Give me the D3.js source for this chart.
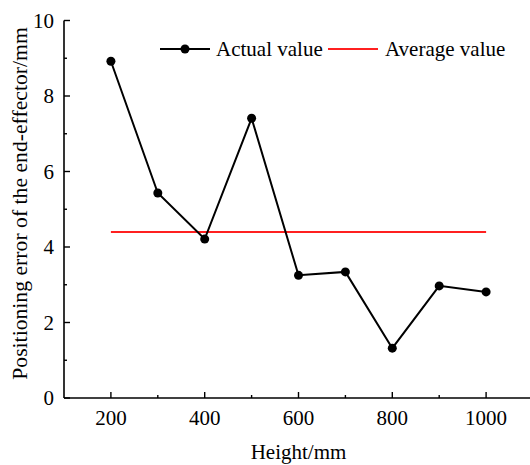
<!DOCTYPE html>
<html><head><meta charset="utf-8">
<script src="https://cdn.jsdelivr.net/npm/d3@7"></script>
<style>body{margin:0;background:#fff}svg{display:block}</style>
</head><body><svg id="c" width="530" height="465"></svg>
<script>
const heights = [200,300,400,500,600,700,800,900,1000];
const actualValues = [8.92,5.43,4.21,7.41,3.25,3.34,1.32,2.97,2.81];
const averageValue = 4.40;
const xTicks = [200,400,600,800,1000];
const yTicks = [0,2,4,6,8,10];
const xTitle = "Height/mm";
const yTitle = "Positioning error of the end-effector/mm";
const legendLabels = ["Actual value","Average value"];

const FF = "Liberation Serif";
const svg = d3.select("#c");
const x = d3.scaleLinear().domain([100,1100]).range([64,533]);
const y = d3.scaleLinear().domain([0,10]).range([398,20.5]);
const fs = 21;

// axes
const g = svg.append("g");
g.append("line").attr("x1",x(100)).attr("x2",x(1100)).attr("y1",y(0)).attr("y2",y(0)).attr("stroke","#000").attr("stroke-width",1.6);
g.append("line").attr("x1",x(100)).attr("x2",x(100)).attr("y1",y(0)).attr("y2",y(10)).attr("stroke","#000").attr("stroke-width",1.6);

// x ticks
const xMinor = d3.range(300,1100,200);
g.selectAll(".xt").data(xTicks).enter().append("line").attr("x1",d=>x(d)).attr("x2",d=>x(d)).attr("y1",y(0)).attr("y2",y(0)-6).attr("stroke","#000").attr("stroke-width",1.4);
g.selectAll(".xm").data(xMinor).enter().append("line").attr("x1",d=>x(d)).attr("x2",d=>x(d)).attr("y1",y(0)).attr("y2",y(0)-3).attr("stroke","#000").attr("stroke-width",1.4);
g.selectAll(".xl").data(xTicks).enter().append("text").attr("font-family",FF).attr("x",d=>x(d)).attr("y",y(0)+27).attr("text-anchor","middle").attr("font-size",fs).text(d=>d);

// y ticks
const yMinor = d3.range(1,10,2);
g.selectAll(".yt").data(yTicks).enter().append("line").attr("x1",x(100)).attr("x2",x(100)+6).attr("y1",d=>y(d)).attr("y2",d=>y(d)).attr("stroke","#000").attr("stroke-width",1.4);
g.selectAll(".ym").data(yMinor).enter().append("line").attr("x1",x(100)).attr("x2",x(100)+3).attr("y1",d=>y(d)).attr("y2",d=>y(d)).attr("stroke","#000").attr("stroke-width",1.4);
g.selectAll(".yl").data(yTicks).enter().append("text").attr("font-family",FF).attr("x",x(100)-10).attr("y",d=>y(d)).attr("dy","0.35em").attr("text-anchor","end").attr("font-size",fs).text(d=>d);

// titles
svg.append("text").attr("font-family",FF).attr("x",298.5).attr("y",459).attr("text-anchor","middle").attr("font-size",fs).text(xTitle);
svg.append("text").attr("font-family",FF).attr("transform","translate(27,203.5) rotate(-90)").attr("text-anchor","middle").attr("font-size",21.7).text(yTitle);

// average line
svg.append("line").attr("x1",x(heights[0])).attr("x2",x(heights[heights.length-1])).attr("y1",y(averageValue)).attr("y2",y(averageValue)).attr("stroke","#ff2020").attr("stroke-width",2);

// actual series
const data = heights.map((h,i)=>({h,v:actualValues[i]}));
svg.append("path").datum(data).attr("fill","none").attr("stroke","#000").attr("stroke-width",2)
  .attr("d",d3.line().x(d=>x(d.h)).y(d=>y(d.v)));
svg.selectAll(".pt").data(data).enter().append("circle").attr("cx",d=>x(d.h)).attr("cy",d=>y(d.v)).attr("r",4.5).attr("fill","#000");

// legend
const ly = 49;
svg.append("line").attr("x1",160).attr("x2",210).attr("y1",ly).attr("y2",ly).attr("stroke","#000").attr("stroke-width",2);
svg.append("circle").attr("cx",185).attr("cy",ly).attr("r",4.5).attr("fill","#000");
svg.append("text").attr("font-family",FF).attr("x",216).attr("y",ly).attr("dy","0.33em").attr("font-size",fs).text(legendLabels[0]);
svg.append("line").attr("x1",328).attr("x2",378).attr("y1",ly).attr("y2",ly).attr("stroke","#ff2020").attr("stroke-width",2);
svg.append("text").attr("font-family",FF).attr("x",385).attr("y",ly).attr("dy","0.33em").attr("font-size",fs).text(legendLabels[1]);
</script></body></html>
